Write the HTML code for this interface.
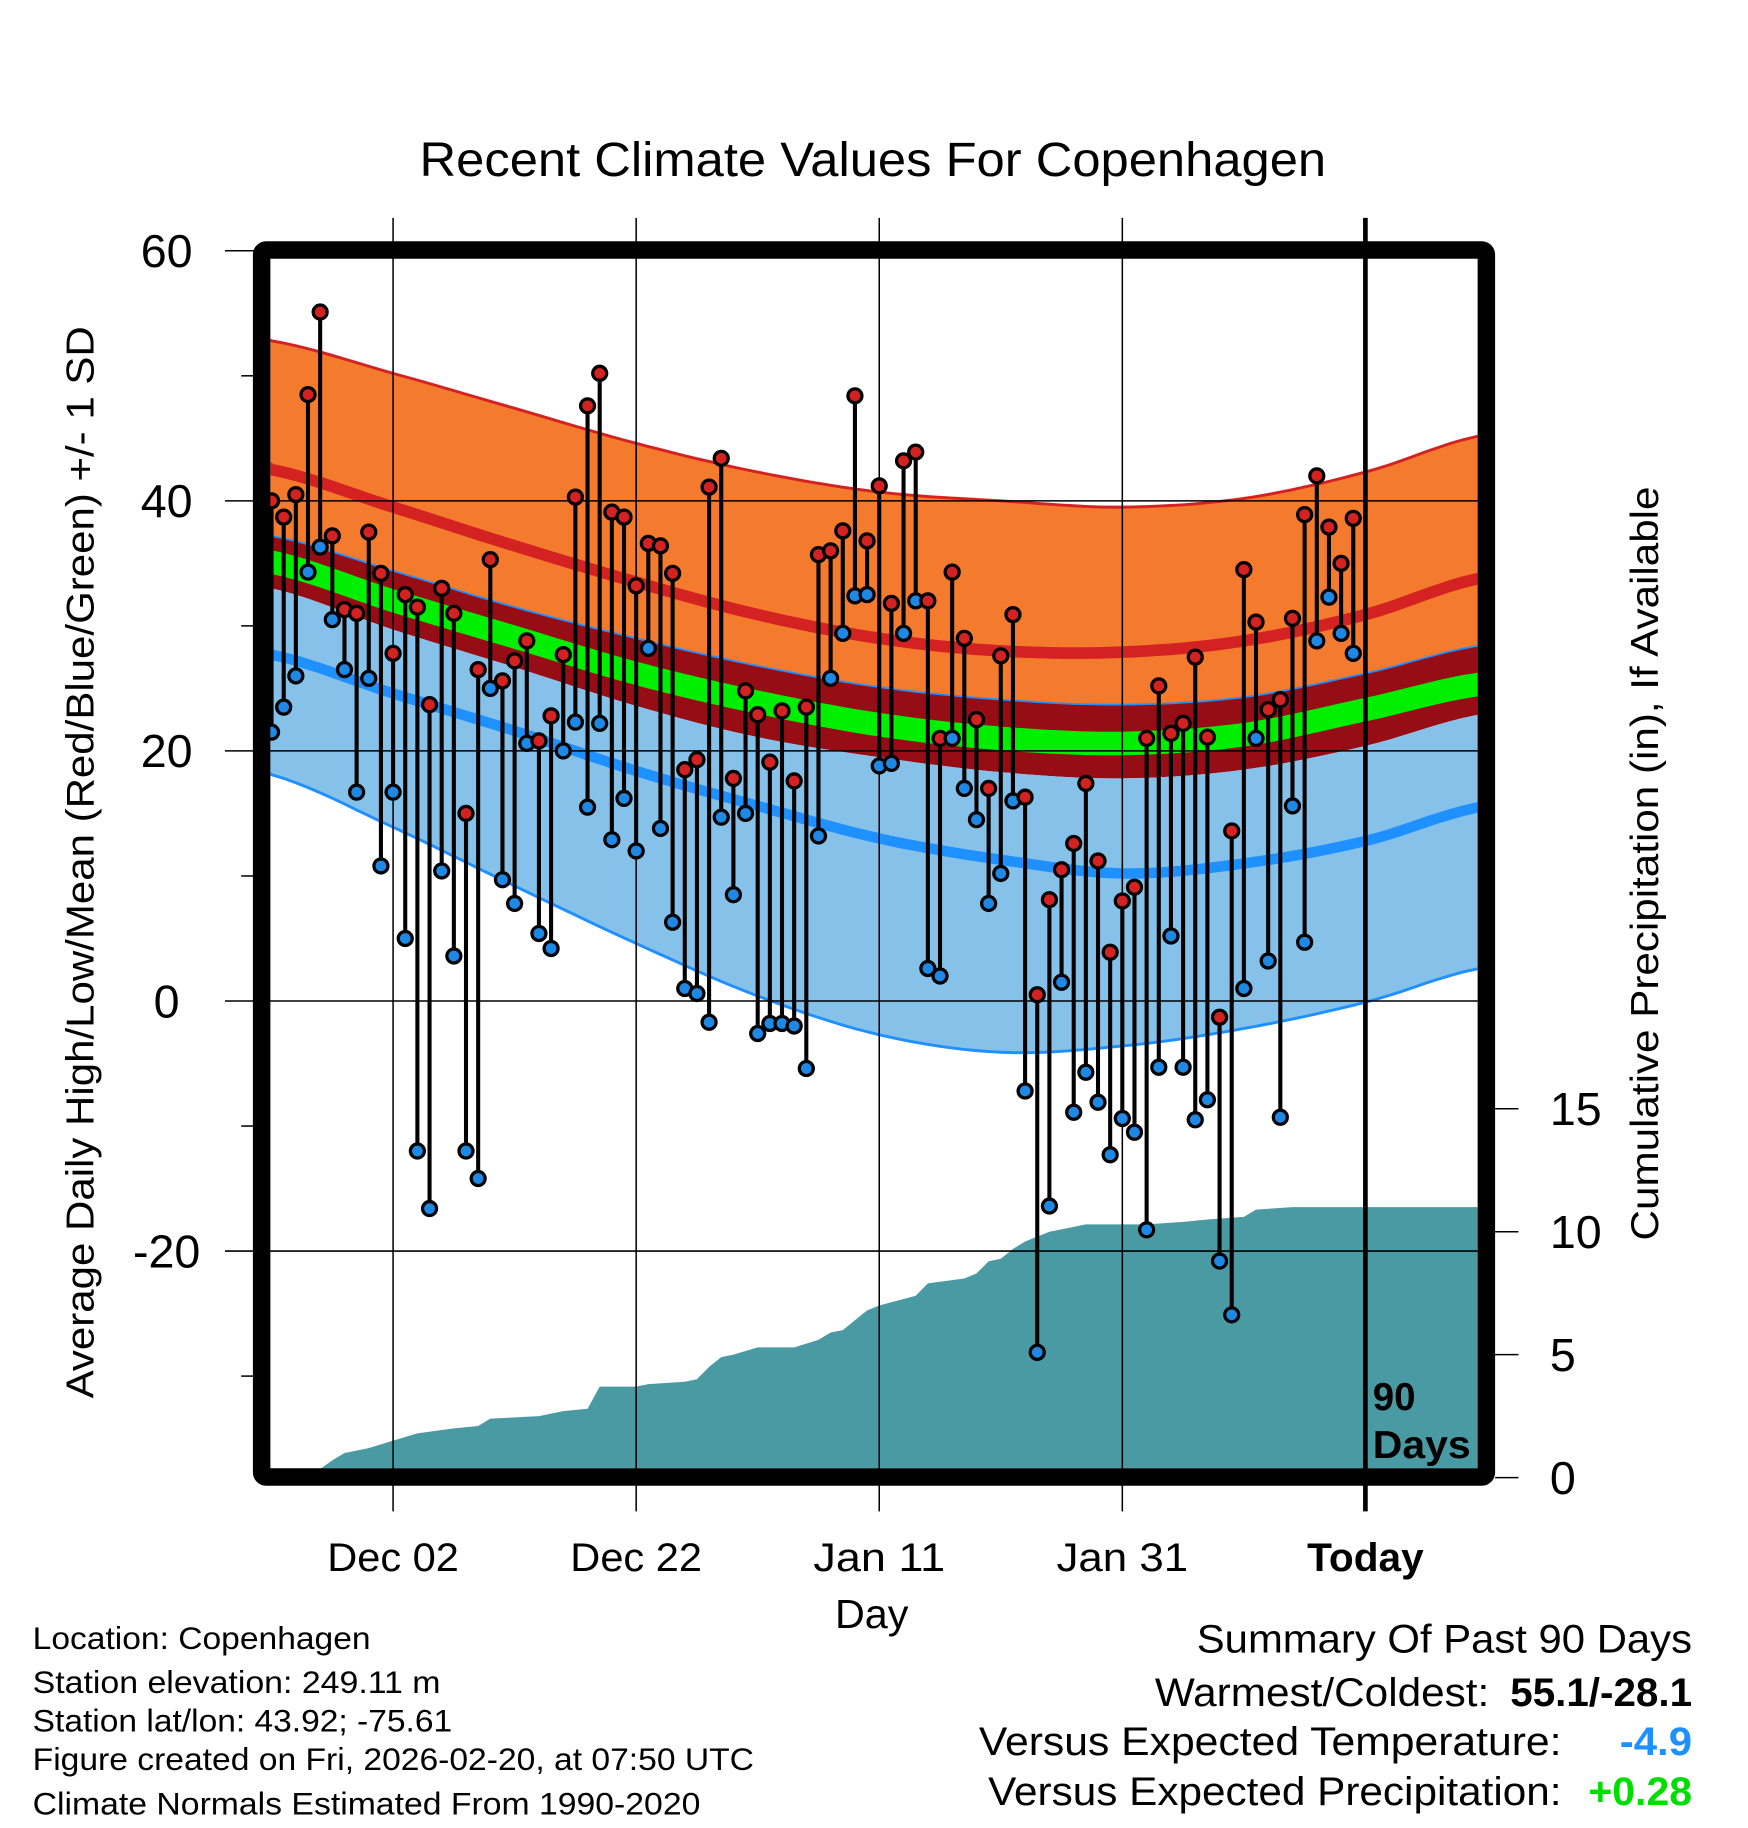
<!DOCTYPE html>
<html><head><meta charset="utf-8"><style>
html,body{margin:0;padding:0;background:#fff}
svg{display:block}
text{font-family:"Liberation Sans",sans-serif}
</style></head><body>
<svg id="chart" width="1748" height="1828" viewBox="0 0 1500 1568.7" xmlns="http://www.w3.org/2000/svg">
<defs><clipPath id="plotclip"><rect x="232" y="221" width="1036" height="1039"/></clipPath></defs>
<rect x="0" y="0" width="1500" height="1569" fill="#fff"/>
<text x="749" y="151" font-size="41" text-anchor="middle" textLength="778" lengthAdjust="spacingAndGlyphs">Recent Climate Values For Copenhagen</text>
<g id="bands" clip-path="url(#plotclip)"></g>
<g id="precip" clip-path="url(#plotclip)"></g>
<g id="grid"></g>
<g id="marks"></g>
<g id="axes"></g>
<text transform="translate(80,740) rotate(-90)" font-size="33" text-anchor="middle" textLength="920" lengthAdjust="spacingAndGlyphs">Average Daily High/Low/Mean (Red/Blue/Green) +/- 1 SD</text>
<text transform="translate(1423,741) rotate(-90)" font-size="33" text-anchor="middle" textLength="647" lengthAdjust="spacingAndGlyphs">Cumulative Precipitation (in), If Available</text>
<text x="748" y="1397" font-size="35" text-anchor="middle" textLength="63" lengthAdjust="spacingAndGlyphs">Day</text>
<text x="1178" y="1210" font-size="33" font-weight="bold">90</text>
<text x="1178" y="1251" font-size="33" font-weight="bold" textLength="84" lengthAdjust="spacingAndGlyphs">Days</text>
<g font-size="27">
<text x="28" y="1415" textLength="290" lengthAdjust="spacingAndGlyphs">Location: Copenhagen</text>
<text x="28" y="1453" textLength="350" lengthAdjust="spacingAndGlyphs">Station elevation: 249.11 m</text>
<text x="28" y="1486" textLength="360" lengthAdjust="spacingAndGlyphs">Station lat/lon: 43.92; -75.61</text>
<text x="28" y="1519" textLength="619" lengthAdjust="spacingAndGlyphs">Figure created on Fri, 2026-02-20, at 07:50 UTC</text>
<text x="28" y="1557" textLength="573" lengthAdjust="spacingAndGlyphs">Climate Normals Estimated From 1990-2020</text>
</g>
<g font-size="34">
<text x="1452" y="1418" text-anchor="end" textLength="425" lengthAdjust="spacingAndGlyphs">Summary Of Past 90 Days</text>
<text x="1278" y="1464" text-anchor="end" textLength="287" lengthAdjust="spacingAndGlyphs">Warmest/Coldest:</text>
<text x="1452" y="1464" text-anchor="end" font-weight="bold" textLength="156" lengthAdjust="spacingAndGlyphs">55.1/-28.1</text>
<text x="1340" y="1506" text-anchor="end" textLength="500" lengthAdjust="spacingAndGlyphs">Versus Expected Temperature:</text>
<text x="1452" y="1506" text-anchor="end" font-weight="bold" fill="#1e90ff" textLength="62" lengthAdjust="spacingAndGlyphs">-4.9</text>
<text x="1340" y="1549" text-anchor="end" textLength="492" lengthAdjust="spacingAndGlyphs">Versus Expected Precipitation:</text>
<text x="1452" y="1549" text-anchor="end" font-weight="bold" fill="#00dd00" textLength="89" lengthAdjust="spacingAndGlyphs">+0.28</text>
</g>
</svg>
<script>
const highs=[40,38.7,40.5,48.5,55.1,37.2,31.3,31,37.5,34.2,27.8,32.5,31.5,23.7,33,31,15,26.5,35.3,25.6,27.2,28.8,20.8,22.8,27.7,40.3,47.6,50.2,39.1,38.7,33.2,36.6,36.4,34.2,18.5,19.3,41.1,43.4,17.8,24.8,22.9,19.1,23.2,17.6,23.5,35.7,36,37.6,48.4,36.8,41.2,31.8,43.2,43.9,32,21,34.3,29,22.5,17,27.6,30.9,16.3,0.5,8.1,10.5,12.6,17.4,11.2,3.9,8,9.1,21,25.2,21.4,22.2,27.5,21.1,-1.3,13.6,34.5,30.3,23.3,24.1,30.6,38.9,42,37.9,35,38.6];
const lows=[21.5,23.5,26,34.3,36.3,30.5,26.5,16.7,25.8,10.8,16.7,5,-12,-16.6,10.4,3.6,-12,-14.2,25,9.7,7.8,20.6,5.4,4.2,20,22.3,15.5,22.2,12.9,16.2,12,28.2,13.8,6.3,1,0.6,-1.7,14.7,8.5,15,-2.6,-1.8,-1.8,-2,-5.4,13.2,25.8,29.4,32.4,32.5,18.8,19,29.4,32,2.6,2,21,17,14.5,7.8,10.2,16,-7.2,-28.1,-16.4,1.5,-8.9,-5.7,-8.1,-12.3,-9.4,-10.5,-18.3,-5.3,5.2,-5.3,-9.5,-7.9,-20.8,-25.1,1,21,3.2,-9.3,15.6,4.7,28.8,32.3,29.4,27.8];
const normDays=[-3,0,10,20,30,40,50,60,70,80,90,100];
const hiPlus=[53.5,52.8,50.2,47.4,44.6,42.3,40.7,40,39.5,40.2,42.3,45.3];
const hiMean=[43.3,42.5,39.5,36.4,33.5,30.9,29,28,27.9,28.8,30.9,33.9];
const hiMinus=[38,37.2,34.4,31.5,29,26.8,25.1,24.1,23.7,24.3,26.2,28.5];
const avgMean=[35.9,35.1,32,29.1,26.2,23.9,22.1,21,20.6,21.3,23.3,25.4];
const loPlus=[33.9,33,29.7,26.7,23.6,21.1,19.5,18.3,17.8,18.5,20.4,23];
const loMean=[28.6,27.7,24.6,21.6,18.4,15.6,13,11.3,10.2,11,12.8,15.6];
const loMinus=[19.4,18.1,13.9,9.2,4.6,0.4,-2.7,-4.1,-3.6,-2.2,-0.1,2.7];
const precipDays=[3,5,6,8,10,12,15,17,18,22,24,26,27,30,31,34,35,36,37,38,40,43,45,46,47,49,50,53,54,57,58,59,60,61,62,64,66,67,72,75,77,80,81,84,89,100];
const precipVals=[0,0.7,1.0,1.2,1.5,1.8,2.0,2.1,2.4,2.5,2.7,2.8,3.7,3.7,3.8,3.9,4.0,4.5,4.9,5.0,5.3,5.3,5.6,5.9,6.0,6.8,7.0,7.4,7.9,8.1,8.3,8.8,8.9,9.3,9.6,10.0,10.2,10.3,10.3,10.4,10.5,10.6,10.9,11.0,11.0,11.0];
const tempTicks=[60,40,20,0,-20];
const tempMinor=[50,30,10,-10,-30];
const precipTicks=[0,5,10,15];
const dateTicks=[10,30,50,70,90];
const dateLabels=["Dec 02","Dec 22","Jan 11","Jan 31","Today"];

const NS="http://www.w3.org/2000/svg";
const xs=d=>233+d*10.43;
const yt=t=>859-t*10.73;
const yp=p=>1268-p*21.1;
function mk(parent,tag,attrs){const e=document.createElementNS(NS,tag);for(const k in attrs)e.setAttribute(k,attrs[k]);parent.appendChild(e);return e;}
function curvePts(vals){
  const pts=[];
  for(let i=0;i<normDays.length-1;i++){
    const p0=vals[Math.max(0,i-1)],p1=vals[i],p2=vals[i+1],p3=vals[Math.min(vals.length-1,i+2)];
    const d0=normDays[i],d1=normDays[i+1];
    for(let s=0;s<10;s++){const u=s/10;
      const v=0.5*((2*p1)+(-p0+p2)*u+(2*p0-5*p1+4*p2-p3)*u*u+(-p0+3*p1-3*p2+p3)*u*u*u);
      pts.push([xs(d0+(d1-d0)*u),yt(v)]);}
  }
  pts.push([xs(normDays[normDays.length-1]),yt(vals[vals.length-1])]);
  return pts;
}
const ps=p=>p.map((q,i)=>(i?'L':'M')+q[0].toFixed(1)+' '+q[1].toFixed(1)).join(' ');
function band(g,top,bot,fill,name){
  const a=curvePts(top),b=curvePts(bot).reverse();
  const e=mk(g,'path',{d:ps(a.concat(b))+'Z',fill:fill});
  
  
}
function line(g,vals,color,w,name){
  const e=mk(g,'path',{d:ps(curvePts(vals)),fill:'none',stroke:color,'stroke-width':w});
  
  
}
const bands=document.getElementById('bands');
band(bands,hiPlus,hiMinus,'#f47a2e','high-sd-band');
band(bands,hiMinus,loPlus,'#960d15','overlap-band');
band(bands,loPlus,loMinus,'#85c1e8','low-sd-band');
band(bands,avgMean.map(v=>v+0.95),avgMean.map(v=>v-0.95),'#00ee00','mean-band');
line(bands,hiPlus,'#d42222',2.5,'high-plus-sd-line');
line(bands,hiMean,'#d42222',10,'mean-high-line');
line(bands,hiMinus,'#1e90ff',1.5,'high-minus-sd-line');
line(bands,loMean,'#1e90ff',9,'mean-low-line');
line(bands,loMinus,'#1e90ff',2.5,'low-minus-sd-line');

const pg=document.getElementById('precip');
let pd='M'+xs(precipDays[0])+' '+yp(0);
precipDays.forEach((d,i)=>{pd+=' L'+xs(d).toFixed(1)+' '+yp(precipVals[i]).toFixed(1);});
pd+=' L'+xs(precipDays[precipDays.length-1])+' '+yp(0)+'Z';
const pa=mk(pg,'path',{d:pd,fill:'#4a9aa4'});



const grid=document.getElementById('grid');
tempTicks.forEach(t=>{const l=mk(grid,'line',{x1:193,x2:1268,y1:yt(t),y2:yt(t),stroke:'#000','stroke-width':1.3});
  
  });
tempMinor.forEach(t=>{const l=mk(grid,'line',{x1:207,x2:220,y1:yt(t),y2:yt(t),stroke:'#000','stroke-width':1.3});
  
  });
dateTicks.forEach((d,i)=>{if(i<4){const l=mk(grid,'line',{x1:xs(d),x2:xs(d),y1:187,y2:1297,stroke:'#000','stroke-width':1.3});
  
  }});

const marks=document.getElementById('marks');
highs.forEach((h,i)=>{
  const x=xs(i);
  const s=mk(marks,'line',{x1:x,x2:x,y1:yt(h),y2:yt(lows[i]),stroke:'#000','stroke-width':3.5});
  
  
});
highs.forEach((h,i)=>{
  const x=xs(i);
  const lo=mk(marks,'circle',{cx:x,cy:yt(lows[i]),r:6,fill:'#1e88e5',stroke:'#000','stroke-width':2.8});
  
  
  const hi=mk(marks,'circle',{cx:x,cy:yt(h),r:6,fill:'#d42222',stroke:'#000','stroke-width':2.8});
  
  
});

const axes=document.getElementById('axes');
const tl=mk(axes,'line',{x1:xs(90),x2:xs(90),y1:187,y2:1297,stroke:'#000','stroke-width':4});


const fr=mk(axes,'rect',{x:224.5,y:214.5,width:1051,height:1053,fill:'none',stroke:'#000','stroke-width':15,rx:4});


tempTicks.forEach(t=>{const e=mk(axes,'text',{x:143,y:yt(t)+14,'font-size':40,'text-anchor':'middle'});e.textContent=t;
  
  });
precipTicks.forEach(p=>{const l=mk(axes,'line',{x1:1283,x2:1303,y1:yp(p),y2:yp(p),stroke:'#000','stroke-width':1.3});
  
  
  const e=mk(axes,'text',{x:1330,y:yp(p)+14,'font-size':40});e.textContent=p;
  
  });
dateTicks.forEach((d,i)=>{const e=mk(axes,'text',{x:xs(d),y:1348,'font-size':34,'text-anchor':'middle',textLength:(i===4?100:113),lengthAdjust:'spacingAndGlyphs'});
  if(i===4)e.setAttribute('font-weight','bold');
  e.textContent=dateLabels[i];
  
  });
</script>
</body></html>
